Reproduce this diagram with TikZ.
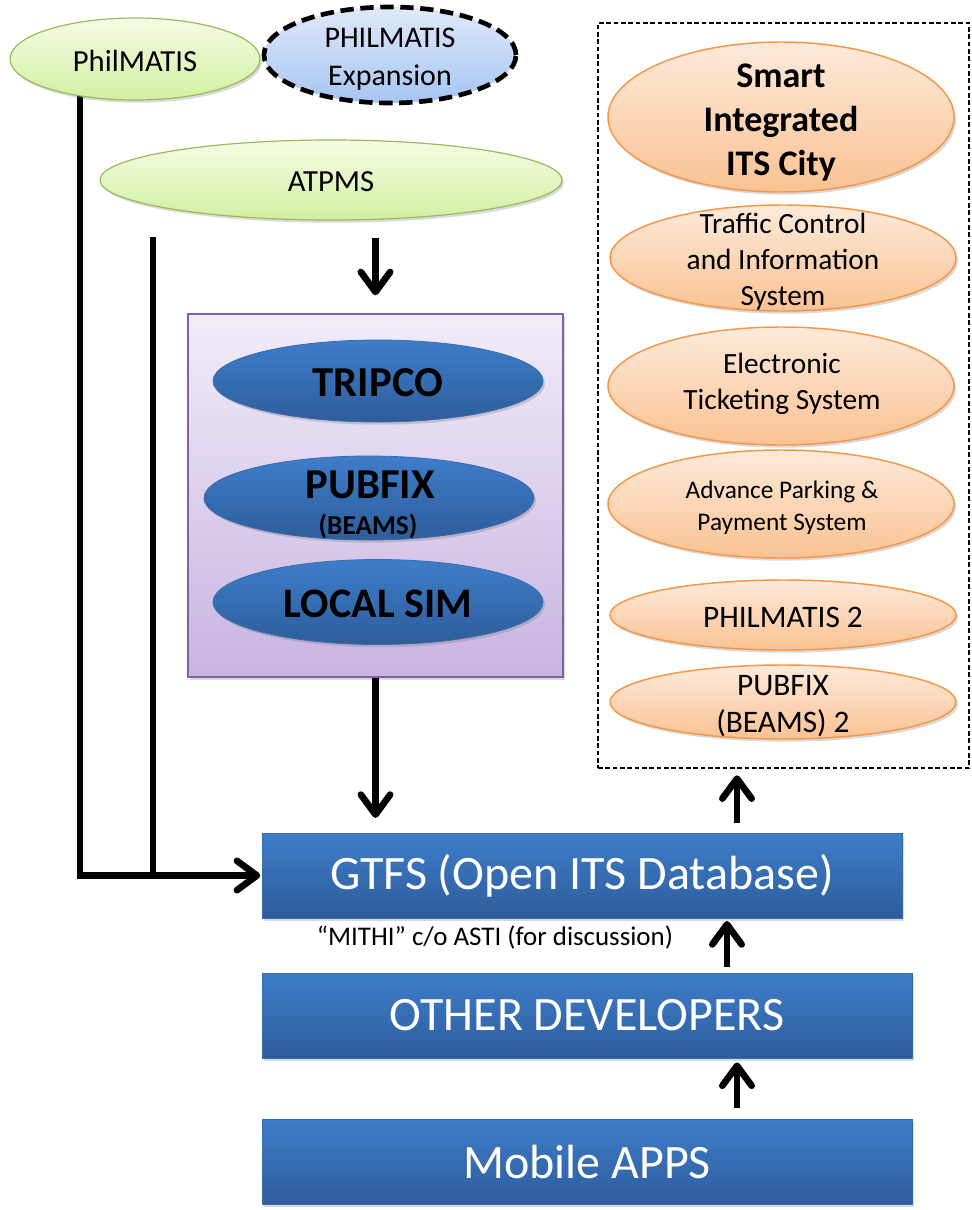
\documentclass[tikz,border=0pt]{standalone}
\usepackage{fontspec}
\setmainfont{Carlito}
\usetikzlibrary{arrows.meta,shapes.geometric,shadows}
\newdimen\pxunit \pxunit=0.75pt
\definecolor{grnborder}{HTML}{9BBB59}
\definecolor{grntop}{HTML}{F4FCE4}
\definecolor{grnbot}{HTML}{D3EFA2}
\definecolor{lbtop}{HTML}{DFE9F9}
\definecolor{lbbot}{HTML}{A7C5F1}
\definecolor{bluetop}{HTML}{3E7DCA}
\definecolor{bluebot}{HTML}{2E5D9B}
\definecolor{blueborder}{HTML}{3A6CAD}
\definecolor{purpborder}{HTML}{8064A2}
\definecolor{purptop}{HTML}{F1ECF8}
\definecolor{purpbot}{HTML}{C8B4E1}
\definecolor{orgborder}{HTML}{F79646}
\definecolor{orgtop}{HTML}{FDEADB}
\definecolor{orgbot}{HTML}{FAC293}
\begin{document}
\begin{tikzpicture}[x=0.75pt,y=-0.75pt,
  shad/.style={drop shadow={shadow xshift=1.5pt,shadow yshift=-2pt,opacity=0.25,fill=black!60}},
  grn/.style={ellipse,draw=grnborder,line width=0.9pt,top color=grntop,bottom color=grnbot,inner sep=0pt,shad},
  lblue/.style={ellipse,draw=black,line width=3.5pt,dash pattern=on 10pt off 5pt,top color=lbtop,bottom color=lbbot,inner sep=0pt},
  bell/.style={ellipse,draw=blueborder,line width=0.6pt,top color=bluetop,bottom color=bluebot,inner sep=0pt,shad},
  org/.style={ellipse,draw=orgborder,line width=1.1pt,top color=orgtop,bottom color=orgbot,inner sep=0pt,shad},
  bbox/.style={rectangle,draw=blueborder,line width=0.6pt,top color=bluetop,bottom color=bluebot,inner sep=0pt,text=white,font=\fontsize{36}{43}\selectfont,shad},
  purp/.style={rectangle,draw=purpborder,line width=1pt,top color=purptop,bottom color=purpbot,inner sep=0pt,shad},
  dbox/.style={rectangle,draw=black,line width=0.9pt,dash pattern=on 3.5pt off 2pt,inner sep=0pt},
  txt/.style={align=center,inner sep=0pt},
  conn/.style={line width=5pt},
  arr/.style={line width=5pt,-{Straight Barb[length=15pt,width=22pt,round]}}
]
\useasboundingbox (0,0) rectangle (971,1210);

% containers
\node[dbox,minimum width=371*\pxunit,minimum height=745*\pxunit] (future) at (783.5,395.5) {};
\node[purp,minimum width=375*\pxunit,minimum height=363*\pxunit] (tools) at (375.5,495.5) {};

% blue boxes
\node[bbox,minimum width=640*\pxunit,minimum height=85*\pxunit] (gtfs) at (582,875.5) {GTFS (Open ITS Database)};
\node[bbox,minimum width=650*\pxunit,minimum height=85*\pxunit] (other) at (587,1015.5) {OTHER DEVELOPERS};
\node[bbox,minimum width=650*\pxunit,minimum height=85*\pxunit] (mobile) at (587,1161.5) {Mobile APPS};
\node[txt,font=\fontsize{20.2}{24}\selectfont] (mithi) at (495,938) {``MITHI'' c/o ASTI (for discussion)};

% left connectors
\coordinate (pmfoot) at (80,96);
\coordinate (atfoot) at (153,237);
\coordinate (xa) at (727,0);
\coordinate (xb) at (737,0);
\draw[conn] (atfoot) -- (atfoot |- gtfs.west);
\draw[arr,shorten >=1pt] (pmfoot) |- (gtfs.west);

% top-left ellipses
\node[grn,minimum width=250*\pxunit,minimum height=82*\pxunit] (philmatis) at (135,59) {};
\node[txt,font=\fontsize{23}{28}\selectfont] at (135,61) {PhilMATIS};
\node[lblue,minimum width=252*\pxunit,minimum height=96*\pxunit] (expansion) at (390,55) {};
\node[txt,font=\fontsize{22.5}{28.5}\selectfont] at (390,59) {PHILMATIS\\Expansion};
\node[grn,minimum width=462*\pxunit,minimum height=80*\pxunit] (atpms) at (331,180) {};
\node[txt,font=\fontsize{23}{28}\selectfont] at (331,182) {ATPMS};

% blue ellipses in the purple box
\node[bell,minimum width=330*\pxunit,minimum height=82*\pxunit] (tripco) at (378,381) {};
\node[txt,font=\bfseries\fontsize{32}{38}\selectfont] at (378,383) {TRIPCO};
\node[bell,minimum width=330*\pxunit,minimum height=84*\pxunit] (pubfix) at (369,498) {};
\node[txt,font=\bfseries\fontsize{32}{38}\selectfont] at (370,485) {PUBFIX};
\node[txt,font=\bfseries\fontsize{20.5}{24}\selectfont] at (368,526) {(BEAMS)};
\node[bell,minimum width=330*\pxunit,minimum height=85*\pxunit] (localsim) at (378,602) {};
\node[txt,font=\bfseries\fontsize{31.5}{38}\selectfont] at (378,604) {LOCAL SIM};

% orange ellipses
\node[org,minimum width=346*\pxunit,minimum height=150*\pxunit] (smart) at (781,117) {};
\node[txt,font=\bfseries\fontsize{27}{33}\selectfont] at (781,123) {Smart\\Integrated\\ITS City};
\node[org,minimum width=346*\pxunit,minimum height=106*\pxunit] (traffic) at (783,258) {};
\node[txt,font=\fontsize{22}{27}\selectfont] at (783,262) {Traffic Control\\and Information\\System};
\node[org,minimum width=346*\pxunit,minimum height=118*\pxunit] (ticket) at (781,386) {};
\node[txt,font=\fontsize{22}{27}\selectfont] at (782,384) {Electronic\\Ticketing System};
\node[org,minimum width=346*\pxunit,minimum height=108*\pxunit] (parking) at (781,504) {};
\node[txt,font=\fontsize{19}{24}\selectfont] at (782,508) {Advance Parking \&\\Payment System};
\node[org,minimum width=346*\pxunit,minimum height=70*\pxunit] (philmatis2) at (783,615) {};
\node[txt,font=\fontsize{23.5}{28}\selectfont] at (783,617) {PHILMATIS 2};
\node[org,minimum width=346*\pxunit,minimum height=74*\pxunit] (pubfix2) at (783,702) {};
\node[txt,font=\fontsize{23.5}{28}\selectfont] at (783,706) {PUBFIX\\(BEAMS) 2};

% vertical arrows
\draw[arr,shorten <=13pt,shorten >=13.5pt] (tools.north |- atpms.south) -- (tools.north);
\draw[arr,shorten >=11pt] (tools.south) -- (tools.south |- gtfs.north);
\draw[arr,shorten <=7.5pt,shorten >=5pt] (gtfs.north -| xb) -- (future.south -| xb);
\draw[arr,shorten <=4pt,shorten >=2pt] (other.north -| xa) -- (gtfs.south -| xa);
\draw[arr,shorten <=8pt,shorten >=3pt] (mobile.north -| xb) -- (other.south -| xb);
\end{tikzpicture}
\end{document}
